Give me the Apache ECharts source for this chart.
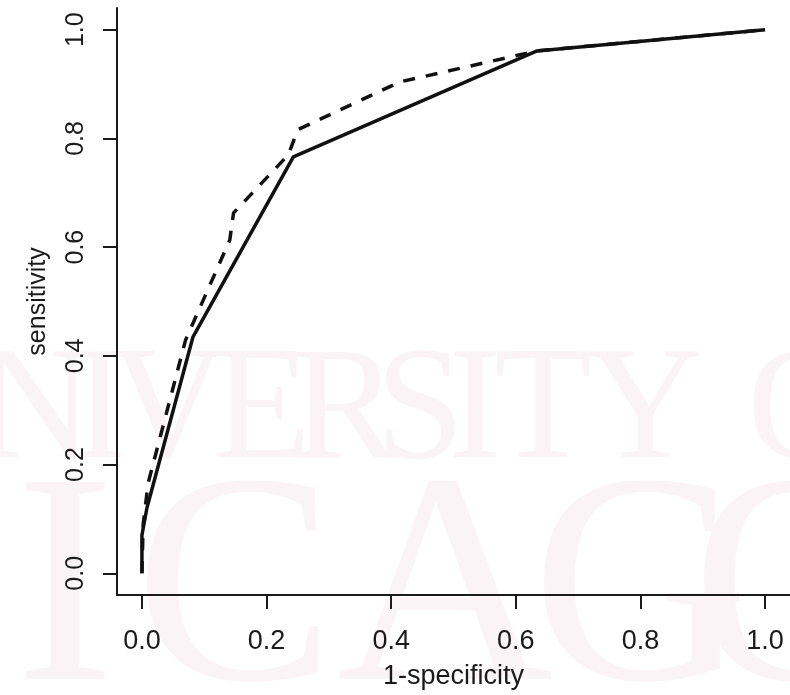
<!DOCTYPE html>
<html>
<head>
<meta charset="utf-8">
<style>
html,body{margin:0;padding:0;background:#fff;}
#chart{width:790px;height:695px;}
</style>
<script src="https://cdn.jsdelivr.net/npm/echarts@6/dist/echarts.min.js"></script>
</head>
<body>
<div id="chart"></div>
<script>
// ROC curves: 1-specificity (x) vs sensitivity (y)
const solidX  = [0, 0, 0.008, 0.082, 0.243, 0.634, 1.0];
const solidY  = [0, 0.07, 0.12, 0.435, 0.766, 0.961, 1.0];
const dashedX = [0, 0.002, 0.01, 0.07, 0.141, 0.147, 0.235, 0.25, 0.414, 0.634, 1.0];
const dashedY = [0, 0.09, 0.166, 0.429, 0.613, 0.663, 0.77, 0.816, 0.904, 0.961, 1.0];
const tickValues = [0, 0.2, 0.4, 0.6, 0.8, 1.0];
const tickLabels = ['0.0', '0.2', '0.4', '0.6', '0.8', '1.0'];
const xTitle = '1-specificity';
const yTitle = 'sensitivity';
const watermarkRow1 = ['N', 'I', 'V', 'E', 'R', 'S', 'I', 'T', 'Y', 'O'];
const watermarkRow2 = ['I', 'C', 'A', 'G', 'O'];

function pairs(xs, ys) { return xs.map((x, i) => [x, ys[i]]); }
function fmt(v) {
  const i = tickValues.findIndex(t => Math.abs(t - v) < 1e-9);
  return i >= 0 ? tickLabels[i] : '';
}

const wm1X = [35, 100, 168, 262, 345, 420, 475, 543, 645, 805];
const wm2X = [65, 235, 445, 640, 800];
const wmColor = '#fbf4f6';
const graphic = [];
watermarkRow1.forEach((ch, i) => graphic.push({
  type: 'text', silent: true, z: -10, x: wm1X[i], y: 415,
  style: { text: ch, fill: wmColor, font: '160px "Liberation Serif"', align: 'center', verticalAlign: 'middle' }
}));
watermarkRow2.forEach((ch, i) => graphic.push({
  type: 'text', silent: true, z: -10, x: wm2X[i], y: 600,
  style: { text: ch, fill: wmColor, font: '300px "Liberation Serif"', align: 'center', verticalAlign: 'middle' }
}));

const axisColor = '#1a1a1a';
const chart = echarts.init(document.getElementById('chart'), null, { renderer: 'canvas' });
chart.setOption({
  animation: false,
  backgroundColor: '#ffffff',
  graphic: graphic,
  grid: { left: 117, top: 8, width: 674, height: 588, containLabel: false },
  xAxis: {
    type: 'value', min: -0.04, max: 1.04,
    name: xTitle, nameLocation: 'middle', nameGap: 68,
    nameTextStyle: { fontFamily: 'Liberation Sans', fontSize: 27, color: axisColor },
    splitLine: { show: false },
    axisLine: { show: true, onZero: false, lineStyle: { color: axisColor, width: 2 } },
    axisTick: { show: true, customValues: tickValues, length: 14, lineStyle: { color: axisColor, width: 2 } },
    axisLabel: { show: true, customValues: tickValues, formatter: fmt, margin: 33,
      fontFamily: 'Liberation Sans', fontSize: 27, color: axisColor }
  },
  yAxis: {
    type: 'value', min: -0.04, max: 1.04,
    name: yTitle, nameLocation: 'middle', nameGap: 66, nameRotate: 90,
    nameTextStyle: { fontFamily: 'Liberation Sans', fontSize: 25, color: axisColor },
    splitLine: { show: false },
    axisLine: { show: true, onZero: false, lineStyle: { color: axisColor, width: 2 } },
    axisTick: { show: true, customValues: tickValues, length: 14, lineStyle: { color: axisColor, width: 2 } },
    axisLabel: { show: true, customValues: tickValues, formatter: fmt, rotate: 90, margin: 28,
      fontFamily: 'Liberation Sans', fontSize: 25, color: axisColor }
  },
  series: [
    {
      name: 'solid', type: 'line', data: pairs(solidX, solidY),
      showSymbol: false, symbol: 'none',
      lineStyle: { color: '#111111', width: 3.5, type: 'solid' }
    },
    {
      name: 'dashed', type: 'line', data: pairs(dashedX, dashedY),
      showSymbol: false, symbol: 'none',
      lineStyle: { color: '#111111', width: 3.5, type: [12, 11] }
    }
  ]
});
</script>
</body>
</html>
